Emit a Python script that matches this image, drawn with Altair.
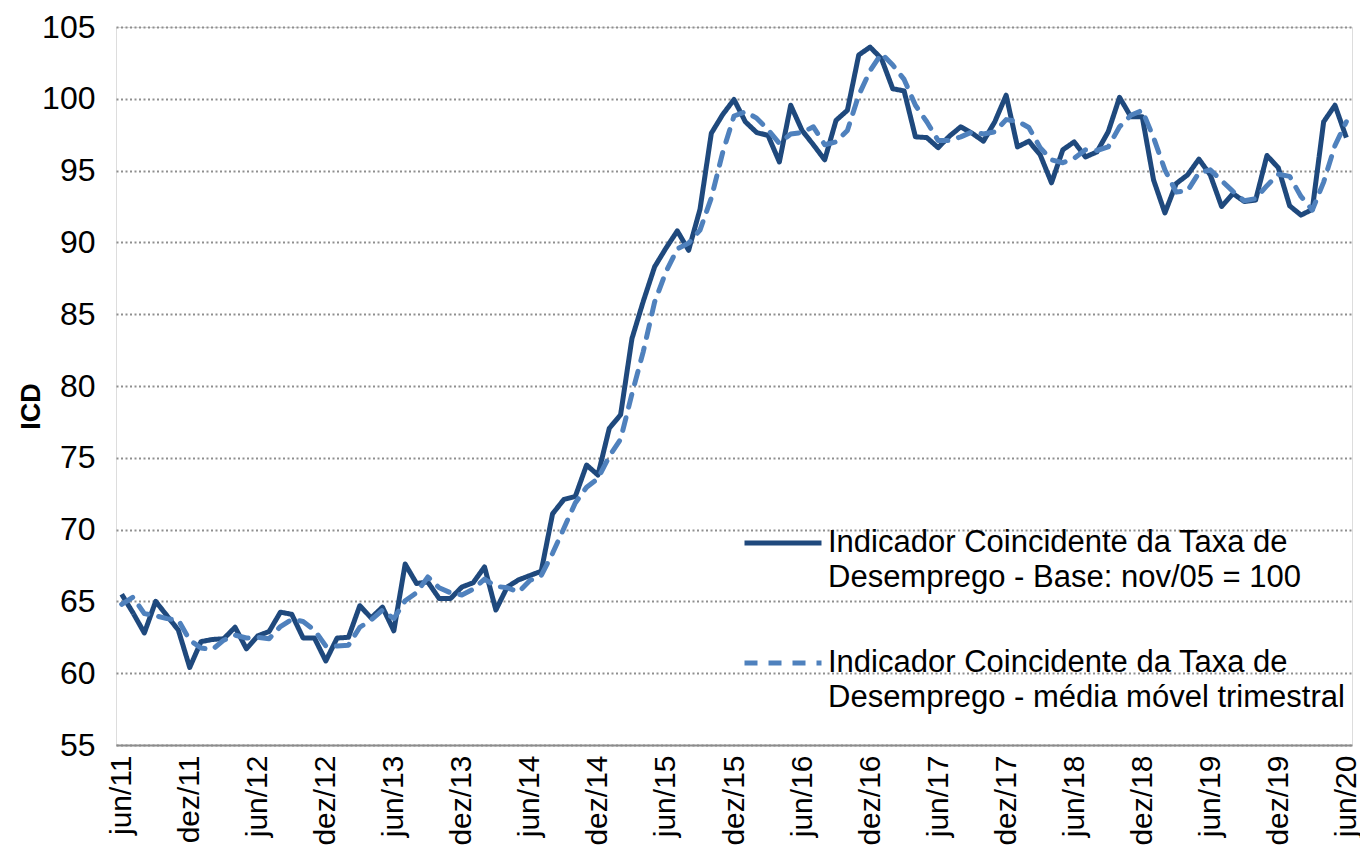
import altair as alt
import pandas as pd

# ---- categories: monthly, jun/11 .. jun/20 ----
MESES = ["jan", "fev", "mar", "abr", "mai", "jun", "jul", "ago", "set", "out", "nov", "dez"]
months = []
_y, _m = 2011, 5
for _ in range(109):
    months.append(f"{MESES[_m]}/{_y % 100:02d}")
    _m += 1
    if _m == 12:
        _m = 0
        _y += 1

tick_labels = months[::6]
y_ticks = [55, 60, 65, 70, 75, 80, 85, 90, 95, 100, 105]

# ---- series values ----
icd = [65.5, 64.2, 62.8, 65.0, 64.0, 63.0, 60.4, 62.2, 62.35, 62.4,
       63.2, 61.7, 62.6, 62.9, 64.25, 64.1, 62.45, 62.45, 60.85, 62.45,
       62.5, 64.7, 63.85, 64.6, 62.95, 67.6, 66.25, 66.35, 65.2, 65.2,
       66.0, 66.3, 67.4, 64.4, 66.0, 66.5, 66.8, 67.1, 71.1, 72.1,
       72.3, 74.5, 73.8, 77.05, 78.0, 83.3, 85.9, 88.3, 89.6, 90.8,
       89.45, 92.3, 97.6, 98.9, 99.95, 98.4, 97.65, 97.45, 95.6, 99.55,
       97.8, 96.8, 95.75, 98.5, 99.2, 103.05, 103.6, 102.8, 100.7, 100.55,
       97.35, 97.3, 96.6, 97.4, 98.05, 97.6, 97.05, 98.4, 100.25, 96.65,
       97.05, 96.1, 94.15, 96.45, 97.0, 95.95, 96.3, 97.7, 100.1, 98.75,
       98.75, 94.35, 92.05, 94.1, 94.7, 95.8, 94.7, 92.5, 93.4, 92.85,
       92.95, 96.05, 95.2, 92.55, 91.9, 92.3, 98.4, 99.55, 97.3]

mm3 = [64.8, 65.3, 64.15, 64.0, 63.8, 63.7, 62.3, 61.75, 61.65, 62.3,
       62.65, 62.45, 62.5, 62.4, 63.25, 63.75, 63.6, 63.0, 61.9, 61.9,
       61.95, 63.2, 63.7, 64.4, 63.8, 65.05, 65.6, 66.7, 65.95, 65.6,
       65.45, 65.85, 66.55, 66.05, 65.95, 65.65, 66.45, 66.8, 68.35, 70.1,
       71.85, 72.95, 73.55, 75.1, 76.3, 79.45, 82.4, 85.85, 87.95, 89.55,
       89.95, 90.85, 93.1, 96.25, 98.8, 99.1, 98.65, 97.85, 96.9, 97.55,
       97.65, 98.05, 96.8, 97.0, 97.8, 100.25, 101.95, 103.15, 102.35, 101.35,
       99.55, 98.4, 97.1, 97.1, 97.35, 97.7, 97.55, 97.7, 98.55, 98.45,
       98.0, 96.6, 95.75, 95.55, 95.85, 96.45, 96.4, 96.65, 98.05, 98.85,
       99.2, 97.3, 95.05, 93.5, 93.6, 94.85, 95.05, 94.3, 93.55, 92.9,
       93.05, 93.95, 94.75, 94.6, 93.2, 92.25, 94.2, 96.75, 98.4]

SERIE_A = "Indicador Coincidente da Taxa de|Desemprego - Base: nov/05 = 100"
SERIE_B = "Indicador Coincidente da Taxa de|Desemprego - média móvel trimestral"
series_names = [SERIE_A, SERIE_B]
series_colors = ["#1F497D", "#4F81BD"]
series_dash = [[1, 0], [13, 11]]

df = pd.DataFrame({
    "mes": months * 2,
    "serie": [SERIE_A] * len(months) + [SERIE_B] * len(months),
    "valor": icd + mm3,
})

FONT = "Liberation Sans"

x_enc = alt.X(
    "mes:O", sort=months,
    scale=alt.Scale(type="point", padding=0.5),
    axis=alt.Axis(values=tick_labels, labelAngle=270, labelAlign="right", labelBaseline="middle",
                  labelFontSize=30, labelFont=FONT, labelColor="#000000", labelPadding=10,
                  ticks=False, tickSize=0, grid=False, domainColor="#8c8c8c", domainWidth=2,
                  labelOverlap=False, labelBound=False, labelFlush=False, title=None),
)
y_enc = alt.Y(
    "valor:Q",
    scale=alt.Scale(domain=[55, 105], nice=False, zero=False),
    axis=alt.Axis(values=y_ticks, labelFontSize=32, labelFont=FONT, labelColor="#000000",
                  labelPadding=21, ticks=False, tickSize=0, domain=False,
                  grid=True, gridColor="#8f8f8f", gridDash=[2, 2.5], gridWidth=1.8,
                  title="ICD", titleFont=FONT, titleFontSize=27, titleFontWeight="bold",
                  titleColor="#000000", titleAngle=270, titleBaseline="alphabetic",
                  titleAlign="center", titleX=-77, titleY=379),
)
legend = alt.Legend(
    title=None, orient="none", legendX=626, legendY=475,
    symbolType="stroke", symbolSize=5929, symbolStrokeWidth=5,
    labelFontSize=31, labelFont=FONT, labelColor="#000000", labelLimit=0,
    labelOffset=4, labelBaseline="middle", rowPadding=29, padding=0,
    labelExpr="split(datum.label, '|')",
)
color_enc = alt.Color("serie:N", scale=alt.Scale(domain=series_names, range=series_colors), legend=legend)
dash_enc = alt.StrokeDash("serie:N", scale=alt.Scale(domain=series_names, range=series_dash), legend=legend)

base = alt.Chart(df).encode(x=x_enc, y=y_enc, color=color_enc, strokeDash=dash_enc)

solid = base.transform_filter(alt.datum.serie == SERIE_A).mark_line(strokeWidth=5, strokeJoin="round")
dashed = base.transform_filter(alt.datum.serie == SERIE_B).mark_line(strokeWidth=5, strokeCap="round",
                                                                      strokeJoin="round")

chart = (
    alt.layer(solid, dashed)
    .properties(width=1236, height=718,
                autosize=alt.AutoSizeParams(type="none"),
                padding={"left": 108, "top": 19, "right": 8, "bottom": 103},
                background="#ffffff")
    .configure_view(stroke=None)
    .configure(style={"guide-label": {"lineHeight": 35}})
)

chart.save("out.html", embed_options={"renderer": "svg", "actions": False})
